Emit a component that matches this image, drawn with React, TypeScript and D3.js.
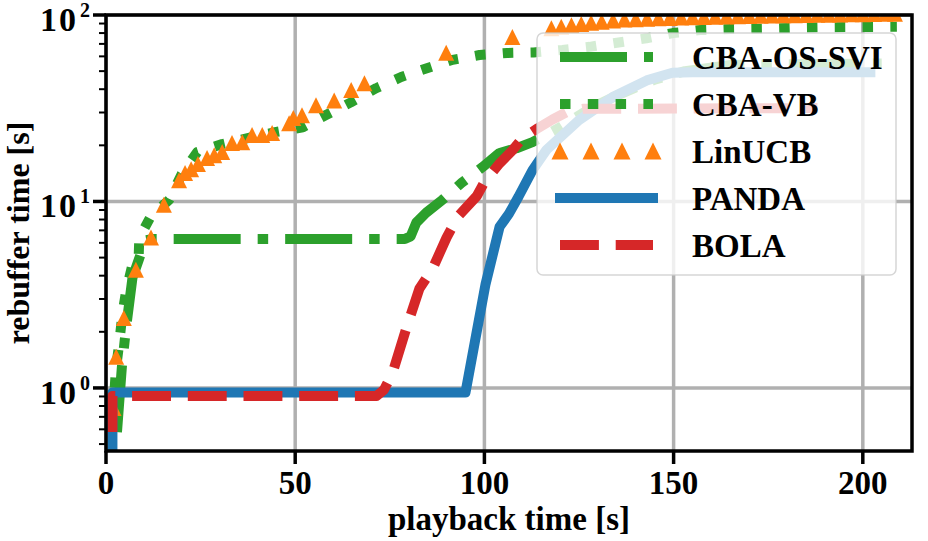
import React from 'react';
import * as d3 from 'd3';

// playback time [s] / cumulative rebuffer time [s] per algorithm
const osSviTime = [2.9, 4.2, 5.3, 7.0, 8.7, 10.5, 12.5, 79.0, 80.5, 82.0, 84.6, 88.9, 94.0, 99.5, 104.0, 108.5, 112.7, 120.0, 128.5, 135.0, 145.0, 153.0, 165.0, 205.0];
const osSviRebuf = [0.58, 1.3, 2.1, 3.9, 4.9, 6.2, 6.3, 6.3, 6.5, 7.7, 8.7, 10.2, 12.6, 15.3, 18.2, 19.3, 20.8, 25.0, 32.0, 37.0, 45.0, 50.0, 54.0, 55.0];

const vbTime = [2.3, 2.6, 3.5, 4.3, 5.3, 7.0, 8.6, 8.8, 11.8, 16.7, 20.0, 24.1, 30.7, 38.0, 45.0, 52.0, 58.0, 64.7, 71.4, 78.0, 85.0, 91.6, 98.7, 106.0, 113.0, 120.6, 127.8, 135.0, 142.8, 149.8, 157.0, 165.0, 175.0, 183.0, 190.0, 209.0];
const vbRebuf = [1.0, 1.25, 1.74, 2.46, 3.3, 4.6, 4.8, 6.4, 8.3, 10.2, 14.0, 18.4, 20.3, 22.0, 23.6, 25.0, 29.0, 34.0, 40.5, 46.5, 52.0, 57.5, 61.0, 62.6, 63.0, 65.0, 67.5, 71.0, 75.0, 80.0, 83.0, 84.0, 84.5, 85.5, 86.0, 86.5];

const linucbTime = [2.0, 2.7, 4.7, 7.9, 11.9, 15.3, 19.3, 20.9, 22.5, 24.3, 26.7, 28.6, 30.7, 33.3, 36.0, 38.6, 41.3, 43.9, 48.4, 49.5, 51.8, 55.5, 60.3, 64.8, 68.3, 89.9, 107.4, 117.7, 120.3, 123.0, 125.6, 128.2, 131.0, 134.0, 137.0, 140.0, 143.0, 146.0, 149.0, 152.0, 155.0, 158.0, 161.0, 164.0, 167.0, 170.0, 173.0, 176.0, 179.0, 182.0, 185.0, 188.0, 191.0, 194.0, 197.0, 200.0, 203.0, 206.0, 208.5];
const linucbRebuf = [0.78, 1.47, 2.37, 4.3, 6.4, 9.6, 13.0, 14.2, 14.9, 15.9, 17.1, 17.7, 18.4, 20.6, 20.8, 22.7, 22.7, 23.3, 26.3, 28.0, 29.0, 32.8, 34.8, 39.6, 43.1, 62.7, 76.2, 85.0, 86.5, 88.0, 89.5, 91.0, 92.0, 93.5, 94.5, 95.0, 95.5, 96.0, 96.5, 97.0, 97.3, 97.6, 98.0, 98.3, 98.6, 98.9, 99.2, 99.4, 99.6, 99.8, 100.0, 100.2, 100.4, 100.6, 100.8, 101.0, 101.2, 101.4, 101.6];

const pandaTime = [1.7, 1.7, 95.0, 100.3, 104.0, 106.5, 109.0, 112.7, 116.4, 125.0, 133.9, 142.9, 149.7, 155.0, 202.0];
const pandaRebuf = [0.35, 0.945, 0.945, 3.6, 7.3, 8.6, 10.6, 14.7, 18.9, 27.3, 36.3, 44.6, 49.0, 49.3, 49.3];

const bolaTime = [1.7, 1.7, 71.5, 73.5, 75.7, 79.4, 82.8, 86.4, 90.0, 93.0, 98.0, 100.1, 104.0, 107.5, 110.0, 114.0, 118.0, 122.0, 126.0, 188.0];
const bolaRebuf = [0.58, 0.905, 0.905, 0.98, 1.2, 2.1, 3.4, 4.4, 6.4, 8.3, 10.7, 12.8, 16.0, 18.9, 21.8, 24.6, 27.5, 30.3, 31.4, 31.7];

const xTicks = [0, 50, 100, 150, 200];
const yMajor = [1, 10, 100];
const yExponents = ['0', '1', '2'];

const W = 928;
const H = 541;
const margin = { top: 15, right: 16, bottom: 90, left: 106 };
const LW = 10;
const FONT = "'Liberation Serif', 'Times New Roman', serif";

const zip = (xs: number[], ys: number[]) => xs.map((t, i) => [t, ys[i]] as [number, number]);

const lines = [
  { name: 'CBA-OS-SVI', color: '#2ca02c', dash: '67 17 10.5 17', cap: 'butt', data: zip(osSviTime, osSviRebuf) },
  { name: 'CBA-VB', color: '#2ca02c', dash: '10.5 17.3', cap: 'butt', data: zip(vbTime, vbRebuf) },
  { name: 'PANDA', color: '#1f77b4', dash: null, cap: 'square', data: zip(pandaTime, pandaRebuf) },
  { name: 'BOLA', color: '#d62728', dash: '38.9 16.8', cap: 'butt', data: zip(bolaTime, bolaRebuf) },
];

const tri = (s: number) => `M0,${-s / 2}L${s / 2},${s / 2}L${-s / 2},${s / 2}Z`;

export default function App() {
  const x = d3.scaleLinear().domain([0, 213]).range([margin.left, W - margin.right]);
  const y = d3.scaleLog().domain([0.459, 100]).range([H - margin.bottom, margin.top]);
  const line = d3.line<[number, number]>().x((d) => x(d[0])).y((d) => y(d[1]));

  const minor = y.ticks().filter((v) => !yMajor.includes(v));
  const [x0, x1] = x.range();
  const [y0, y1] = y.range();

  const linucb = zip(linucbTime, linucbRebuf);

  // legend layout
  const lg = { x: 537, y: 33, w: 359, h: 242 };
  const rowY = (i: number) => lg.y + 24 + i * 47;
  const hx0 = 560;
  const hx1 = 653;
  const legendRows = ['CBA-OS-SVI', 'CBA-VB', 'LinUCB', 'PANDA', 'BOLA'];

  const drawLine = (l: (typeof lines)[number]) => (
    <path
      key={l.name}
      d={line(l.data) || ''}
      fill="none"
      stroke={l.color}
      strokeWidth={LW}
      strokeDasharray={l.dash || undefined}
      strokeLinecap={l.cap as any}
      strokeLinejoin="round"
    />
  );

  return (
    <svg width={W} height={H} style={{ position: 'absolute', left: 0, top: 0, background: '#fff' }} fontFamily={FONT} fontWeight="bold">
      <defs>
        <clipPath id="plot-area">
          <rect x={x0} y={y1} width={x1 - x0} height={y0 - y1} />
        </clipPath>
      </defs>

      {/* grid */}
      <g stroke="#b0b0b0" strokeWidth={3.5}>
        {xTicks.map((t) => (
          <line key={t} x1={x(t)} x2={x(t)} y1={y0} y2={y1} />
        ))}
        {yMajor.map((t) => (
          <line key={t} x1={x0} x2={x1} y1={y(t)} y2={y(t)} />
        ))}
      </g>

      {/* series */}
      <g clipPath="url(#plot-area)">
        {drawLine(lines[0])}
        {drawLine(lines[1])}
        <g fill="#ff7f0e">
          {linucb.map((d, i) => (
            <path key={i} d={tri(16)} transform={`translate(${x(d[0])},${y(d[1])})`} />
          ))}
        </g>
        {drawLine(lines[2])}
        {drawLine(lines[3])}
      </g>

      {/* spines */}
      <rect x={x0} y={y1} width={x1 - x0} height={y0 - y1} fill="none" stroke="#000" strokeWidth={3.5} />

      {/* x axis */}
      <g>
        {xTicks.map((t) => (
          <g key={t}>
            <line x1={x(t)} x2={x(t)} y1={y0} y2={y0 + 13} stroke="#000" strokeWidth={3.5} />
            <text x={x(t)} y={y0 + 43} textAnchor="middle" fontSize={33}>{t}</text>
          </g>
        ))}
        <text x={(x0 + x1) / 2} y={530} textAnchor="middle" fontSize={33}>playback time [s]</text>
      </g>

      {/* y axis */}
      <g>
        {minor.map((t) => (
          <line key={t} x1={x0 - 7} x2={x0} y1={y(t)} y2={y(t)} stroke="#000" strokeWidth={2} />
        ))}
        {yMajor.map((t, i) => (
          <g key={t}>
            <line x1={x0 - 13} x2={x0} y1={y(t)} y2={y(t)} stroke="#000" strokeWidth={3.5} />
            <text x={78} y={y(t) + 16} textAnchor="end" fontSize={34} letterSpacing={2}>10</text>
            <text x={80} y={y(t) + 2} fontSize={20}>{yExponents[i]}</text>
          </g>
        ))}
        <text transform={`translate(29,${(y0 + y1) / 2}) rotate(-90)`} textAnchor="middle" fontSize={32}>rebuffer time [s]</text>
      </g>

      {/* legend */}
      <g>
        <rect x={lg.x} y={lg.y} width={lg.w} height={lg.h} rx={6} fill="#fff" fillOpacity={0.8} stroke="#cccccc" strokeOpacity={0.8} strokeWidth={1.5} />
        {legendRows.map((name, i) => {
          const cy = rowY(i);
          const l = lines.find((s) => s.name === name);
          return (
            <g key={name}>
              {l ? (
                <line x1={hx0} x2={hx1} y1={cy} y2={cy} stroke={l.color} strokeWidth={LW} strokeDasharray={l.dash || undefined} strokeLinecap={l.cap as any} />
              ) : (
                <g fill="#ff7f0e">
                  {d3.range(4).map((k) => (
                    <path key={k} d={tri(17)} transform={`translate(${hx0 + ((hx1 - hx0) * k) / 3},${cy})`} />
                  ))}
                </g>
              )}
              <text x={692} y={cy + 12} fontSize={33}>{name}</text>
            </g>
          );
        })}
      </g>
    </svg>
  );
}
